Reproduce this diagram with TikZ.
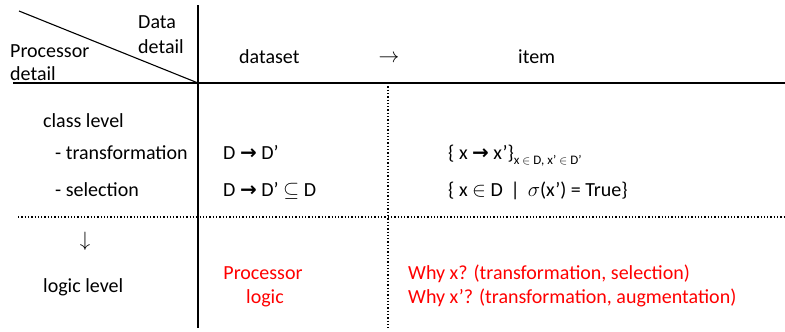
\documentclass[tikz,border=0pt]{standalone}
\usepackage{fontspec}
\setmainfont{Carlito}
\newfontfamily\arrowfont{DejaVu Sans}
\newcommand{\thickarr}{{\arrowfont\bfseries →}}
\begin{document}
\begin{tikzpicture}[x=1pt,y=-1pt,
 txt/.style={anchor=base west,inner sep=0pt,font=\fontsize{20}{24}\selectfont},
 ctxt/.style={txt,anchor=base},
 redtxt/.style={ctxt,text=red},
 rule/.style={line width=1.3pt},
 dotrule/.style={line width=1.3pt,dotted}]
\useasboundingbox (0,0) rectangle (785,332);
\coordinate (vtop) at (198,5);
\coordinate (vbot) at (198,328);
\coordinate (hleft) at (13,83);
\coordinate (hright) at (785,83);
\coordinate (corner) at (198,83);
\coordinate (diag) at (19,11);
\coordinate (dtop) at (388,83);
\coordinate (dbot) at (388,328);
\coordinate (dleft) at (18,217);
\coordinate (dright) at (785,217);
\draw [rule] (vtop) -- (vbot);
\draw [rule] (hleft) -- (hright);
\draw [line width=1.1pt] (diag) -- (corner);
\draw [dotrule] (dtop) -- (dbot);
\draw [dotrule] (dleft) -- (dright);
\node [txt] (data1) at (138,28) {Data};
\node [txt] (data2) at (138,53) {detail};
\node [txt] (proc1) at (10,57) {Processor};
\node [txt] (proc2) at (10,80) {detail};
\node [txt] (dataset) at (239,63) {dataset};
\node [ctxt] (toitem) at (389,62) {$\rightarrow$};
\node [txt] (item) at (518,63) {item};
\node [txt] (classlvl) at (43,127) {class level};
\node [txt] (transf) at (55,159) {- transformation};
\node [txt] (select) at (55,196) {- selection};
\node [txt] (dtrans) at (223,159) {D \thickarr{} D’};
\node [txt] (dsel) at (223,196) {D \thickarr{} D’ $\subseteq$ D};
\node [txt] (xtrans) at (448,159) {\{ x \thickarr{} x’\}\raisebox{-0.6ex}{\fontsize{13}{13}\selectfont x $\in$ D, x’ $\in$ D’}};
\node [txt] (xsel) at (448,196) {\{ x $\in$ D \,|\, $\sigma$(x’) = True\}};
\node [ctxt] (down) at (85,246) {$\downarrow$};
\node [txt] (logiclvl) at (43,292) {logic level};
\node [redtxt] (plogic1) at (263,279) {Processor};
\node [redtxt] (plogic2) at (265,303) {logic};
\node [redtxt,anchor=base west] (whyx) at (408,279) {Why x? (transformation, selection)};
\node [redtxt,anchor=base west] (whyxp) at (408,303) {Why x’? (transformation, augmentation)};
\end{tikzpicture}
\end{document}
